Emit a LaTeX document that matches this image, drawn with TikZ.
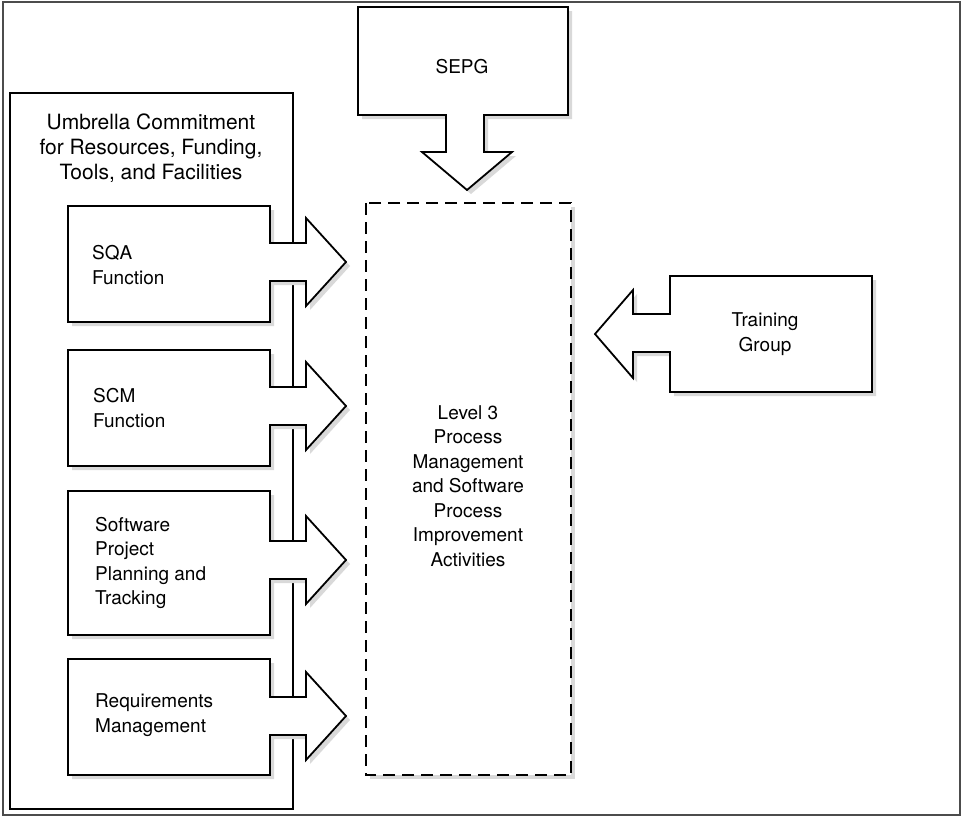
\documentclass[tikz,border=0pt]{standalone}
\usepackage{fontspec}
\setmainfont{TeX Gyre Heros}
\usetikzlibrary{shadows}
% right-pointing arrow box: #1 top, #2 bottom, #3 arrow mid
\newcommand{\myrarrow}[3]{%
  \draw[arrowshape,shad] (68,#1) -- (270,#1) -- (270,{#3-19}) -- (306,{#3-19})
    -- (306,{#3-44}) -- (346,#3) -- (306,{#3+44}) -- (306,{#3+19})
    -- (270,{#3+19}) -- (270,#2) -- (68,#2) -- cycle;}
\begin{document}
\begin{tikzpicture}[x=1pt,y=-1pt,
  arrowshape/.style={draw=black, line width=1.8pt, fill=white, line join=miter},
  shad/.style={drop shadow={shadow xshift=4pt, shadow yshift=-4pt, fill=black!15, opacity=1}},
  lbl/.style={font=\fontsize{19}{24.5}\selectfont, inner sep=0pt},
  biglbl/.style={font=\fontsize{21}{25}\selectfont, inner sep=0pt},
]
\useasboundingbox (0,0) rectangle (962,819);
% outer frame
\draw[black!70, line width=1.3pt] (3,2) rectangle (960,815);
% umbrella frame
\draw[line width=1.5pt] (10,93) rectangle (293,809);
\node[biglbl, align=center] (umb) at (151,148) {Umbrella Commitment\\for Resources, Funding,\\Tools, and Facilities};

% left arrow boxes
\myrarrow{206}{322}{262}
\myrarrow{350}{466}{406}
\myrarrow{491}{635}{560}
\myrarrow{659}{775}{716}
\node[lbl, align=left, anchor=west] (sqa) at (92,265) {SQA\\Function};
\node[lbl, align=left, anchor=west] (scm) at (93,408) {SCM\\Function};
\node[lbl, align=left, anchor=west] (spp) at (95,563) {Software\\Project\\Planning and\\Tracking};
\node[lbl, align=left, anchor=west] (req) at (95,715) {Requirements\\Management};

% SEPG down arrow box
\draw[arrowshape,shad] (358,7) -- (568,7) -- (568,115) -- (484,115) -- (484,152)
  -- (512,152) -- (467,190) -- (422,152) -- (446,152) -- (446,115) -- (358,115) -- cycle;
\node[lbl] (sepg) at (462,67) {SEPG};

% central dashed box
\draw[line width=2pt, dash pattern=on 12pt off 7pt, fill=white, shad] (366,203) rectangle (571,775);
\node[lbl, align=center] (lvl) at (468,486) {Level 3\\Process\\Management\\and Software\\Process\\Improvement\\Activities};

% Training group left arrow box
\draw[arrowshape,shad] (872,276) -- (872,392) -- (670,392) -- (670,352) -- (633,352)
  -- (633,378) -- (595,334) -- (633,290) -- (633,314) -- (670,314) -- (670,276) -- cycle;
\node[lbl, align=center] (trg) at (765,334) {Training\\Group};
\end{tikzpicture}
\end{document}
